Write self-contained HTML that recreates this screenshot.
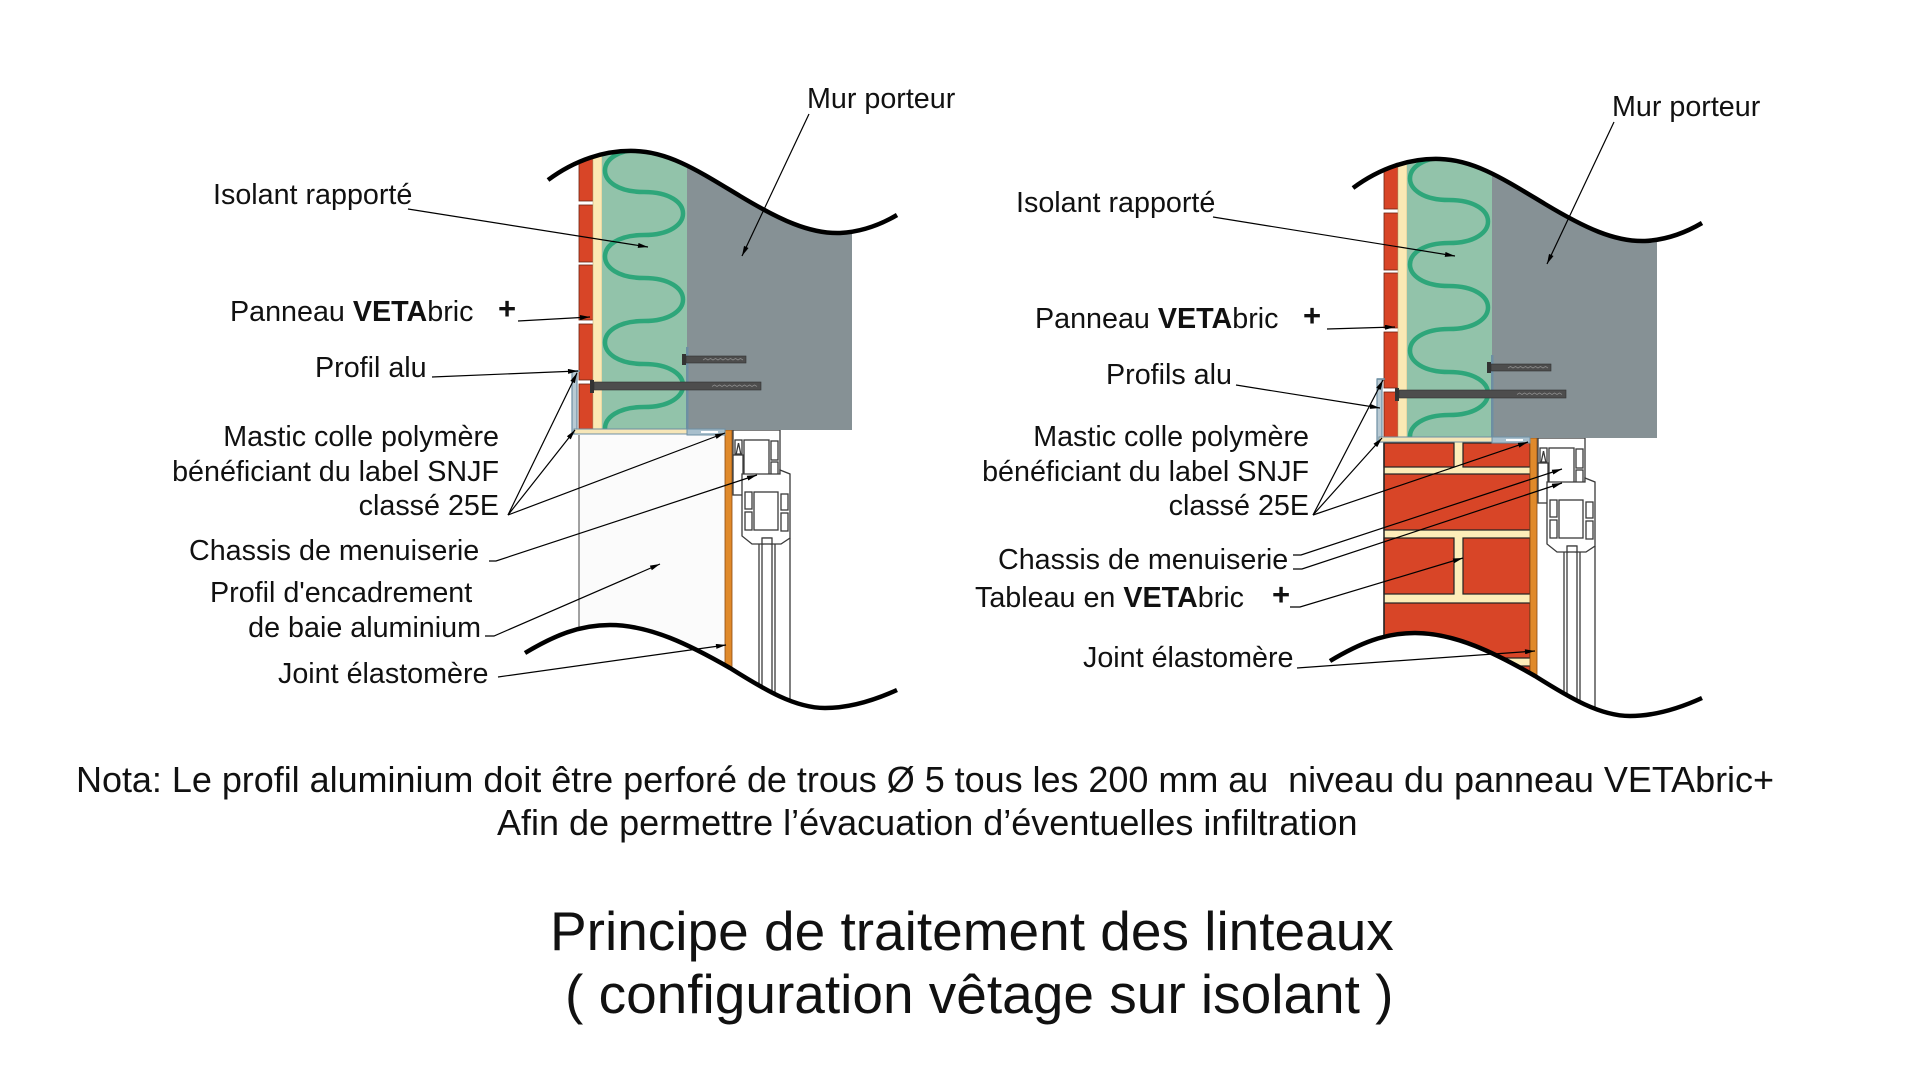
<!DOCTYPE html>
<html>
<head>
<meta charset="utf-8">
<style>
  html,body{margin:0;padding:0;background:#fff;}
  svg{display:block;}
  text{font-family:"Liberation Sans", Arial, sans-serif; fill:#111;}
</style>
</head>
<body>
<svg width="1921" height="1081" viewBox="0 0 1921 1081" xmlns="http://www.w3.org/2000/svg">
  <defs>
    <marker id="ar" viewBox="0 0 12 6" refX="12" refY="3" markerWidth="12" markerHeight="5" markerUnits="userSpaceOnUse" orient="auto">
      <path d="M0,0 L12,3 L0,6 z" fill="#000"/>
    </marker>
    <clipPath id="clipL">
      <path d="M548,180 C575,160 605,150 635,151 C670,152 700,172 740,196 C780,220 810,234 840,233 C860,232 880,225 897,215 L897,690 C875,700 850,708 825,708 C795,708 765,690 730,668 C690,645 650,625 610,625 C580,625 555,635 525,653 Z"/>
    </clipPath>
    <clipPath id="clipR">
      <path transform="translate(805,8)" d="M548,180 C575,160 605,150 635,151 C670,152 700,172 740,196 C780,220 810,234 840,233 C860,232 880,225 897,215 L897,690 C875,700 850,708 825,708 C795,708 765,690 730,668 C690,645 650,625 610,625 C580,625 555,635 525,653 Z"/>
    </clipPath>
    <clipPath id="gclip">
      <rect x="602" y="100" width="85" height="330"/>
    </clipPath>

    <g id="topS">
      <g fill="#d84527" stroke="#6a2412" stroke-width="0.8">
        <rect x="579" y="140" width="14" height="61"/>
        <rect x="579" y="205" width="14" height="57"/>
        <rect x="579" y="265" width="14" height="55"/>
        <rect x="579" y="324" width="14" height="56"/>
        <rect x="579" y="384" width="14" height="45"/>
      </g>
      <rect x="593" y="140" width="9" height="290" fill="#fbe9b4" stroke="#c9b57e" stroke-width="0.6"/>
      <rect x="602" y="140" width="85" height="290" fill="#92c3aa"/>
      <path clip-path="url(#gclip)" fill="none" stroke="#2ea67a" stroke-width="4.5"
        d="M644,106 C696,106 696,149 644,149 C592,149 592,192 644,192 C696,192 696,235 644,235 C592,235 592,278 644,278 C696,278 696,321 644,321 C592,321 592,364 644,364 C696,364 696,407 644,407 C592,407 592,450 644,450"/>
      <rect x="687" y="140" width="165" height="290" fill="#869195"/>
      <rect x="686" y="347" width="2.5" height="83" fill="#6d8fa3"/>
      <rect x="686" y="356" width="60" height="7" fill="#4d4d4d" stroke="#333" stroke-width="0.6"/>
      <rect x="682" y="354" width="4" height="11" fill="#333"/>
      <path d="M703,360 l2.5,-1.5 l2.5,1.5 l2.5,-1.5 l2.5,1.5 l2.5,-1.5 l2.5,1.5 l2.5,-1.5 l2.5,1.5 l2.5,-1.5 l2.5,1.5 l2.5,-1.5 l2.5,1.5 l2.5,-1.5 l2.5,1.5 l2.5,-1.5 l2.5,1.5" fill="none" stroke="#8a8a8a" stroke-width="0.8"/>
      <rect x="594" y="382" width="167" height="8" fill="#4d4d4d" stroke="#333" stroke-width="0.6"/>
      <rect x="590" y="380" width="4" height="13" fill="#333"/>
      <path d="M712,386.5 l2.5,-1.5 l2.5,1.5 l2.5,-1.5 l2.5,1.5 l2.5,-1.5 l2.5,1.5 l2.5,-1.5 l2.5,1.5 l2.5,-1.5 l2.5,1.5 l2.5,-1.5 l2.5,1.5 l2.5,-1.5 l2.5,1.5 l2.5,-1.5 l2.5,1.5 l2.5,-1.5 l2.5,1.5" fill="none" stroke="#8a8a8a" stroke-width="0.8"/>
      <rect x="572" y="371" width="5" height="63" fill="#b9cad3" stroke="#6d8fa3" stroke-width="1.2"/>
      <line x1="572" y1="371" x2="580" y2="371" stroke="#6d8fa3" stroke-width="1.5"/>
      <rect x="574" y="429" width="113" height="5" fill="#f6e6b8" stroke="#6d8fa3" stroke-width="1"/>
      <rect x="687" y="429" width="38" height="6" fill="#a8bfcc" stroke="#6d8fa3" stroke-width="1"/>
      <rect x="701" y="431" width="17" height="2" fill="#fff"/>
    </g>

    <g id="win">
      <rect x="725" y="430" width="7" height="300" fill="#e08a2b" stroke="#8a4a10" stroke-width="0.8"/>
      <g fill="#fff" stroke="#3a3a3a" stroke-width="1.3">
        <rect x="733" y="430" width="47" height="58"/>
        <rect x="744" y="440" width="25" height="41"/>
        <rect x="771" y="441" width="7" height="19"/>
        <rect x="771" y="462" width="7" height="19"/>
        <rect x="735" y="440" width="7" height="14"/>
        <path d="M738.5,443 L736,455 M738.5,443 L741,455" fill="none"/>
        <rect x="733" y="455" width="10" height="40"/>
        <path d="M742,474 L780,474 L780,470 L790,474 L790,538 L781,544 L771,544 L771,538 L763,538 L763,544 L752,544 L742,536 Z"/>
        <rect x="754" y="492" width="24" height="38"/>
        <rect x="745" y="492" width="7" height="17"/>
        <rect x="745" y="512" width="7" height="18"/>
        <rect x="781" y="494" width="7" height="16"/>
        <rect x="781" y="513" width="7" height="18"/>
        <path d="M759,544 V730 M762,544 V730 M772,544 V730 M775,544 V730 M790,538 V730" fill="none"/>
        <rect x="762" y="538" width="10" height="6"/>
      </g>
    </g>
  </defs>

  <g clip-path="url(#clipL)">
    <rect x="579" y="435" width="146" height="300" fill="#fbfbfb"/>
    <line x1="579" y1="435" x2="579" y2="730" stroke="#444" stroke-width="1"/>
    <use href="#win"/>
    <use href="#topS"/>
  </g>
  <g fill="none" stroke="#000" stroke-width="4.5">
    <path d="M548,180 C575,160 605,150 635,151 C670,152 700,172 740,196 C780,220 810,234 840,233 C860,232 880,225 897,215"/>
    <path d="M525,653 C555,635 580,625 610,625 C650,625 690,645 730,668 C765,690 795,708 825,708 C850,708 875,700 897,690"/>
  </g>

  <g clip-path="url(#clipR)">
    <rect x="1384" y="440" width="146" height="310" fill="#fdedb9"/>
    <g fill="#d84527" stroke="#222" stroke-width="1.2">
      <rect x="1384" y="443" width="70" height="24"/>
      <rect x="1463" y="443" width="67" height="24"/>
      <rect x="1384" y="474" width="146" height="56"/>
      <rect x="1384" y="538" width="70" height="56"/>
      <rect x="1463" y="538" width="67" height="56"/>
      <rect x="1384" y="603" width="146" height="55"/>
      <rect x="1384" y="666" width="146" height="80"/>
    </g>
    <line x1="1384" y1="440" x2="1384" y2="750" stroke="#222" stroke-width="1.5"/>
    <g transform="translate(805,8)">
      <use href="#win"/>
      <use href="#topS"/>
    </g>
  </g>
  <g fill="none" stroke="#000" stroke-width="4.5" transform="translate(805,8)">
    <path d="M548,180 C575,160 605,150 635,151 C670,152 700,172 740,196 C780,220 810,234 840,233 C860,232 880,225 897,215"/>
    <path d="M525,653 C555,635 580,625 610,625 C650,625 690,645 730,668 C765,690 795,708 825,708 C850,708 875,700 897,690"/>
  </g>

  <g fill="none" stroke="#000" stroke-width="1.2" marker-end="url(#ar)">
    <path d="M809,114 L742,256"/>
    <path d="M408,209 L648,247"/>
    <path d="M518,321 L590,317"/>
    <path d="M432,377 L578,371"/>
    <path d="M508,515 L577,373"/>
    <path d="M508,515 L575,430"/>
    <path d="M508,515 L725,433"/>
    <path d="M489,561 L496,561 L757,475"/>
    <path d="M485,636 L494,636 L660,564"/>
    <path d="M498,677 L726,645"/>

    <path d="M1614,122 L1547,264"/>
    <path d="M1213,217 L1455,256"/>
    <path d="M1327,329 L1395,327"/>
    <path d="M1236,385 L1380,408"/>
    <path d="M1313,515 L1383,380"/>
    <path d="M1313,515 L1382,438"/>
    <path d="M1313,515 L1528,442"/>
    <path d="M1293,555 L1301,555 L1562,469"/>
    <path d="M1293,569 L1302,569 L1562,483"/>
    <path d="M1290,607 L1300,607 L1463,558"/>
    <path d="M1297,668 L1535,651"/>
  </g>

  <g font-size="28.7">
    <text x="807" y="108">Mur porteur</text>
    <text x="213" y="204">Isolant rapporté</text>
    <text x="230" y="321">Panneau <tspan font-weight="bold">VETA</tspan>bric</text>
    <text x="498" y="319" font-weight="bold" font-size="31">+</text>
    <text x="315" y="377">Profil alu</text>
    <text x="499" y="446" text-anchor="end">Mastic colle polymère</text>
    <text x="499" y="481" text-anchor="end">bénéficiant du label SNJF</text>
    <text x="499" y="515" text-anchor="end">classé 25E</text>
    <text x="189" y="560">Chassis de menuiserie</text>
    <text x="210" y="602">Profil d'encadrement</text>
    <text x="481" y="637" text-anchor="end">de baie aluminium</text>
    <text x="278" y="683">Joint élastomère</text>

    <text x="1612" y="116">Mur porteur</text>
    <text x="1016" y="212">Isolant rapporté</text>
    <text x="1035" y="328">Panneau <tspan font-weight="bold">VETA</tspan>bric</text>
    <text x="1303" y="326" font-weight="bold" font-size="31">+</text>
    <text x="1106" y="384">Profils alu</text>
    <text x="1309" y="446" text-anchor="end">Mastic colle polymère</text>
    <text x="1309" y="481" text-anchor="end">bénéficiant du label SNJF</text>
    <text x="1309" y="515" text-anchor="end">classé 25E</text>
    <text x="998" y="569">Chassis de menuiserie</text>
    <text x="975" y="607">Tableau en <tspan font-weight="bold">VETA</tspan>bric</text>
    <text x="1272" y="605" font-weight="bold" font-size="31">+</text>
    <text x="1083" y="667">Joint élastomère</text>
  </g>

  <text x="76" y="792" font-size="36" textLength="1698" lengthAdjust="spacing">Nota: Le profil aluminium doit être perforé de trous Ø 5 tous les 200 mm au&#160; niveau du panneau VETAbric+</text>
  <text x="497" y="835" font-size="36">Afin de permettre l’évacuation d’éventuelles infiltration</text>

  <text x="550" y="950" font-size="55">Principe de traitement des linteaux</text>
  <text x="565" y="1013" font-size="55">( configuration vêtage sur isolant )</text>
</svg>
</body>
</html>
